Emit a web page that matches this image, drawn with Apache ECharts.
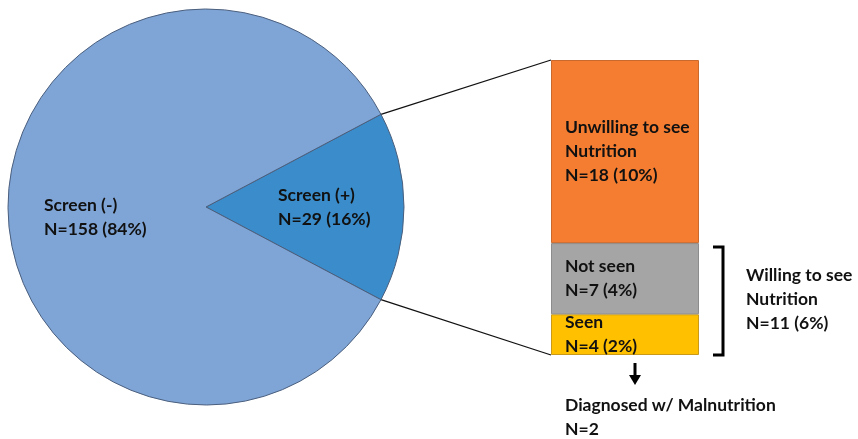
<!DOCTYPE html>
<html>
<head>
<meta charset="utf-8">
<script src="https://cdn.jsdelivr.net/npm/echarts@6/dist/echarts.min.js"></script>
<style>
  html, body { margin: 0; padding: 0; background: #fff; }
  #chart { width: 858px; height: 439px; }
</style>
</head>
<body>
<div id="chart"></div>
<script>
// Screening outcome (pie) and breakdown of the positive screens (stacked bar)
const pieNames = ['Screen (+)', 'Screen (-)'];
const pieValues = [29, 158];
const piePercents = ['16%', '84%'];

const barNames = ['Seen', 'Not seen', 'Unwilling to see\nNutrition'];
const barValues = [4, 7, 18];
const barPercents = ['2%', '4%', '10%'];

const willingText = 'Willing to see\nNutrition';
const willingValue = 11;
const willingPercent = '6%';
const diagnosedText = 'Diagnosed w/ Malnutrition';
const diagnosedValue = 2;

const FONT = 'Lato, "Open Sans", sans-serif';
const FONT_SIZE = 17.5;
const pieCenter = [206, 207];
const pieRadius = 198;
const pieTotal = pieValues.reduce((a, b) => a + b, 0);
const halfSlice = pieValues[0] / pieTotal * 180;

const pieColors = ['#3A8DCA', '#7FA5D6'];
const barColors = ['#FFC000', '#A5A5A5', '#F47D32'];
const barBorders = ['#C99A1A', '#8C8C8C', '#C9692E'];

const labelStyle = {
  color: '#111', fontFamily: FONT, fontWeight: 'bold', fontSize: FONT_SIZE, lineHeight: 24
};

const chart = echarts.init(document.getElementById('chart'), null, { renderer: 'canvas' });

// Pie labels: left-aligned two-line blocks of fixed width
const pieLabelWidth = [94, 106];
const pieLabelOffset = [[17, 0], [-7, 10]];
const pieData = pieNames.map((n, i) => ({
  name: n,
  value: pieValues[i],
  itemStyle: { color: pieColors[i] },
  label: {
    show: true,
    position: 'inside',
    offset: pieLabelOffset[i],
    formatter: () => '{t|' + n + '}\n{t|N=' + pieValues[i] + ' (' + piePercents[i] + ')}',
    rich: { t: { ...labelStyle, width: pieLabelWidth[i], align: 'left' } },
    ...labelStyle
  }
}));

const barSeries = barNames.map((n, i) => ({
  type: 'bar',
  name: n,
  stack: 'pos',
  xAxisIndex: 0,
  yAxisIndex: 0,
  barWidth: '100%',
  silent: true,
  data: [barValues[i]],
  itemStyle: { color: barColors[i], borderColor: barBorders[i], borderWidth: 1 },
  label: {
    show: true,
    position: 'insideLeft',
    distance: 14,
    formatter: () => n + '\nN=' + barValues[i] + ' (' + barPercents[i] + ')',
    ...labelStyle
  }
}));

chart.setOption({
  animation: false,
  backgroundColor: '#ffffff',
  grid: { left: 551, top: 60, width: 148, height: 295 },
  xAxis: { type: 'category', data: ['pos'], show: false },
  yAxis: { type: 'value', min: 0, max: pieValues[0], show: false },
  series: [
    {
      type: 'pie',
      center: pieCenter,
      radius: pieRadius,
      startAngle: halfSlice,
      clockwise: true,
      silent: true,
      labelLine: { show: false },
      itemStyle: { borderColor: '#4B5F7E', borderWidth: 1 },
      data: pieData
    },
    ...barSeries
  ]
});

// Connectors, bracket and arrow placed from the pie geometry and bar scale
const rad = halfSlice * Math.PI / 180;
const upperEdge = [pieCenter[0] + pieRadius * Math.cos(rad), pieCenter[1] - pieRadius * Math.sin(rad)];
const lowerEdge = [pieCenter[0] + pieRadius * Math.cos(rad), pieCenter[1] + pieRadius * Math.sin(rad)];
const barTop = chart.convertToPixel({ gridIndex: 0 }, ['pos', pieValues[0]]);
const barBottom = chart.convertToPixel({ gridIndex: 0 }, ['pos', 0]);
const willingTop = chart.convertToPixel({ gridIndex: 0 }, ['pos', willingValue]);
const barLeft = 551, barRight = 699;

const bx = barRight + 24;
const bracketPts = [[bx - 10, willingTop[1] + 4], [bx, willingTop[1] + 4], [bx, barBottom[1]], [bx - 10, barBottom[1]]];
const arrowX = barTop[0] + 10;
const textFont = 'bold ' + FONT_SIZE + 'px ' + FONT;

chart.setOption({
  graphic: [
    { type: 'line', shape: { x1: upperEdge[0], y1: upperEdge[1], x2: barLeft, y2: barTop[1] },
      style: { stroke: '#111', lineWidth: 1.3 }, silent: true },
    { type: 'line', shape: { x1: lowerEdge[0], y1: lowerEdge[1], x2: barLeft, y2: barBottom[1] },
      style: { stroke: '#111', lineWidth: 1.3 }, silent: true },
    { type: 'polyline', shape: { points: bracketPts },
      style: { stroke: '#000', lineWidth: 3, fill: null, lineJoin: 'miter' }, silent: true },
    { type: 'text', left: bx + 23, top: (willingTop[1] + barBottom[1]) / 2 - 36,
      style: { text: willingText + '\nN=' + willingValue + ' (' + willingPercent + ')',
        fill: '#111', font: textFont, lineHeight: 24 } },
    { type: 'line', shape: { x1: arrowX, y1: barBottom[1] + 8, x2: arrowX, y2: barBottom[1] + 22 },
      style: { stroke: '#000', lineWidth: 3 }, silent: true },
    { type: 'polygon', shape: { points: [[arrowX - 6, barBottom[1] + 20], [arrowX + 6, barBottom[1] + 20], [arrowX, barBottom[1] + 30]] },
      style: { fill: '#000' }, silent: true },
    { type: 'text', left: barLeft + 14, top: barBottom[1] + 38,
      style: { text: diagnosedText + '\nN=' + diagnosedValue,
        fill: '#111', font: textFont, lineHeight: 24 } }
  ]
});
</script>
</body>
</html>
